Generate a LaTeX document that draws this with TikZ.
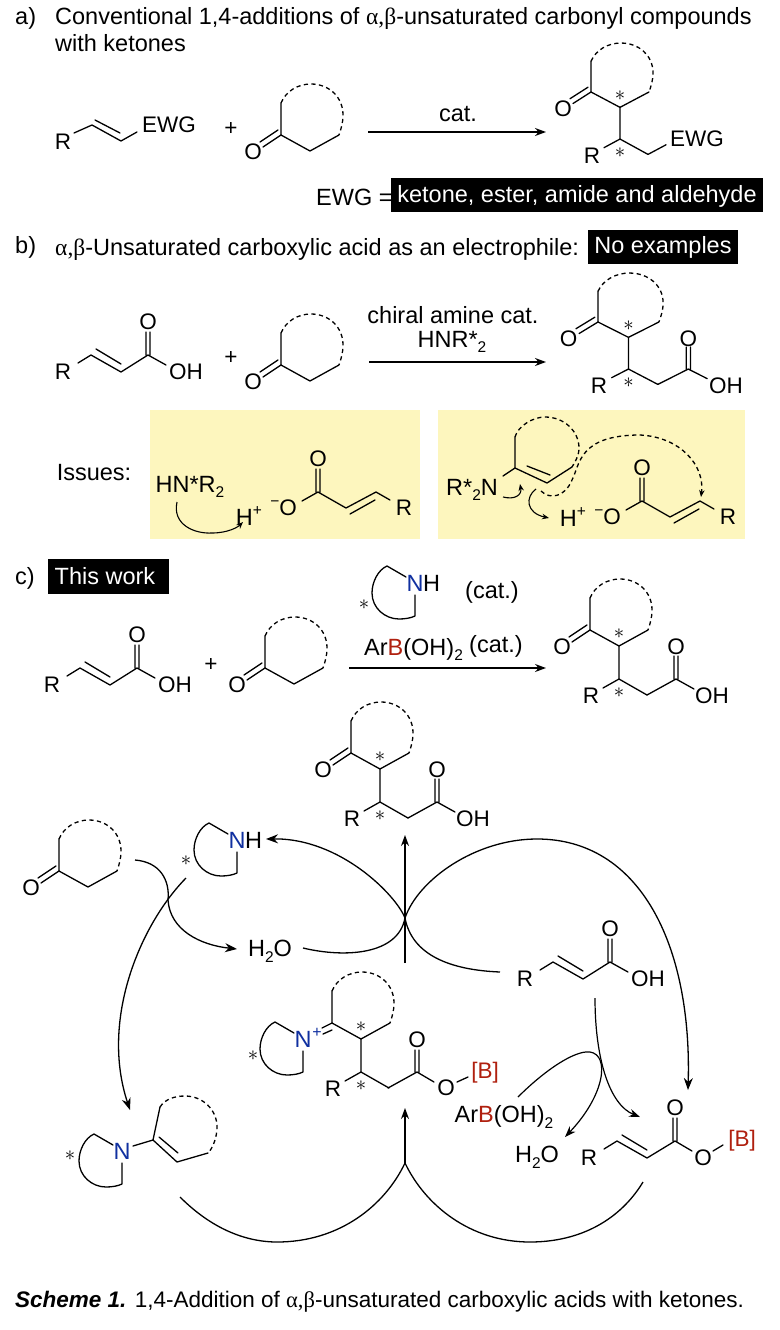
\documentclass[tikz,border=0pt]{standalone}
\usepackage{fontspec}
\setmainfont{Liberation Sans}
\newfontfamily\grk{Liberation Serif}
\usetikzlibrary{arrows.meta}
\definecolor{boron}{HTML}{B0200F}
\definecolor{nitro}{HTML}{1030A0}
\definecolor{pale}{HTML}{FDF6BE}
\newcommand\fs{\fontsize{22.5}{27}\selectfont}
\newcommand\ft{\fontsize{23.5}{28}\selectfont}
\newcommand\subs[1]{\raisebox{-.24em}{\fontsize{15.5}{15.5}\selectfont #1}}
\newcommand\sups[1]{\raisebox{.42em}{\fontsize{15.5}{15.5}\selectfont #1}}
\newcommand\ab{{\grk α,β}}
\newcommand\Bor{\textcolor{boron}{B}}
\tikzset{
  x=1pt,y=-1pt,
  bond/.style={line width=1.3pt,line cap=round,line join=round,black},
  dring/.style={line width=1.3pt,black,dash pattern=on 4.2pt off 3.4pt},
  atom/.style={font=\fs,inner sep=0pt,text=black},
  lab/.style={font=\ft,inner sep=0pt,text=black},
  txt/.style={font=\ft,inner sep=0pt,anchor=base west,text=black},
  inv/.style={font=\ft,inner sep=0pt,text=white},
  blk/.style={fill=black,draw=none},
  staratom/.style={inner sep=0pt,font=\fontsize{20}{20}\selectfont},
  rxn/.style={line width=1.3pt,-{Stealth[length=11pt,width=8pt]}},
  arc/.style={line width=1.3pt},
  arca/.style={line width=1.3pt,-{Stealth[length=12pt,width=9pt]}},
  curl/.style={line width=1.1pt,-{Stealth[length=7pt,width=5.5pt]}},
}
\newcommand\RingBase{%
  \draw[bond] (0,0)--(0,-32) (0,0)--(29,16)--(58,0);
  \draw[dring] (0,-32) .. controls (5,-44) and (17,-51) .. (30,-51) .. controls (48,-51) and (62,-38) .. (62,-20) .. controls (62,-12) and (60,-6) .. (58,0);
}
\newcommand\CarbO[1]{%
  \draw[bond] (0,0)--(-18,12) (-3,-5)--(-21,7);
  \node[atom] (#1O) at (-28,17) {O};
}
\newcommand\Ketone[4][]{\begin{scope}[shift={(#3,#4)},#1]\RingBase\CarbO{#2}\end{scope}}
\newcommand\Chain[1]{%
  \draw[bond] (29,16)--(29,49)--(13,58) (29,49)--(57,65);
  \node[atom] (#1R) at (1,66) {R};
  \node[staratom] (#1sa) at (29,4) {$*$};
  \node[staratom] (#1sb) at (29,63) {$*$};
}
\newcommand\AcidTail[1]{%
  \draw[bond] (57,65)--(86,49) (84,49)--(84,26) (88,49)--(88,26) (86,49)--(104,59);
  \node[atom] (#1Ot) at (86,17) {O};
  \node[atom] (#1OH) at (122,66) {OH};
}
\newcommand\Product[4][]{\begin{scope}[shift={(#3,#4)},#1]\RingBase\CarbO{#2}\Chain{#2}\AcidTail{#2}\end{scope}}
\newcommand\Acid[3]{\begin{scope}[shift={(#2,#3)}]
  \draw[bond] (-13,8)--(0,0)--(30,17)--(57,0)--(75,10) (5,-6)--(30,9) (55,0)--(55,-23) (59,0)--(59,-23);
  \node[atom] (#1R) at (-28,17) {R};
  \node[atom] (#1Ot) at (57,-33) {O};
  \node[atom] (#1OH) at (95,17) {OH};
\end{scope}}
\newcommand\Carbox[3]{\begin{scope}[shift={(#2,#3)}]
  \draw[bond] (-16,9)--(0,0)--(28,16)--(58,0)--(72,8) (32,22)--(57,8) (-2,0)--(-2,-23) (2,0)--(2,-23);
  \node[atom] (#1Ot) at (0,-33) {O};
  \node[atom,anchor=east] (#1O) at (-21,16) {\sups{−}O};
  \node[atom] (#1R) at (86,16) {R};
\end{scope}}
\newcommand\NLoop[3]{\begin{scope}[shift={(#2,#3)}]
  \draw[bond] (-9,-6)--(-28,-17) .. controls (-37,-13) and (-43,-1) .. (-43,10) .. controls (-43,25) and (-30,36) .. (-16,36) .. controls (-10,36) and (-4,35) .. (0,33)--(0,12);
  \node[lab,text=nitro] (#1N) at (0,0) {N};
\end{scope}}
\begin{document}
\begin{tikzpicture}
\useasboundingbox (0,0) rectangle (779,1330);
\fill[white] (0,0) rectangle (779,1330);

% --- a ---
\node[txt] (la) at (15,25) {a)};
\node[txt] (ta) at (55,25) {Conventional 1,4-additions of \ab-unsaturated carbonyl compounds};
\node[txt] (tb) at (55,52) {with ketones};
\begin{scope}[shift={(92,125)}]
  \draw[bond] (-18,8)--(0,0)--(29,16)--(45,7) (3,-5)--(28,8);
  \node[atom] (aR) at (-29,17) {R};
  \node[atom,anchor=west] (aEWG) at (50,0) {EWG};
\end{scope}
\node[atom] (aplus) at (231,129) {+};
\Ketone{ak}{281}{135}
\coordinate (aA) at (368,132);\coordinate (aB) at (546,132);
\draw[rxn] (aA)--(aB);
\node[lab] (acat) at (458,114) {cat.};
\begin{scope}[shift={(591,92)},yscale=.96]
  \RingBase\CarbO{ap}\Chain{ap}
  \draw[bond] (57,65)--(75,55);
  \node[atom,anchor=west] (apE) at (79,49) {EWG};
\end{scope}
\node[txt] (ewgeq) at (316,205) {EWG =};
\fill[blk] (391,178) rectangle (763,212);
\node[inv] (ewgv) at (577,196) {ketone, ester, amide and aldehyde};

% --- b ---
\node[txt] (lb) at (15,253) {b)};
\node[txt] (tb2) at (55,255) {\ab-Unsaturated carboxylic acid as an electrophile:};
\fill[blk] (588,230) rectangle (738,264);
\node[inv] (noex) at (663,247) {No examples};
\Acid{ba}{91}{355}
\node[atom] (bplus) at (231,358) {+};
\Ketone{bk}{281}{365}
\coordinate (bA) at (369,362);\coordinate (bB) at (546,362);
\draw[rxn] (bA)--(bB);
\node[lab] (bcat) at (453,315) {chiral amine cat.};
\node[lab] (bhn) at (452,342) {HNR*\subs{2}};
\Product[xscale=1.05,yscale=.96]{bp}{598}{322}

\fill[pale] (150,410) rectangle (420,539);
\fill[pale] (438,410) rectangle (745,539);
\node[lab] (iss) at (94,473) {Issues:};
\node[lab] (hn1) at (190,487) {HN*R\subs{2}};
\node[lab] (h1) at (249,516) {H\sups{+}};
\coordinate (c1a) at (177,502);\coordinate (c1b) at (243,522);
\draw[curl] (c1a) .. controls (172,525) and (195,534) .. (212,533) .. controls (228,533) and (238,527) .. (c1b);
\Carbox{ic}{318}{492}

\begin{scope}[shift={(515,468)}]
  \draw[bond] (-12,8)--(0,0)--(0,-31) (0,0)--(32,15)--(57,-1) (12,-2)--(35,7);
  \draw[dring] (0,-31) .. controls (3,-42) and (18,-51) .. (30,-51) .. controls (50,-51) and (64,-36) .. (64,-20) .. controls (64,-12) and (60,-6) .. (57,-1);
\end{scope}
\node[lab] (r2n) at (472,490) {R*\subs{2}N};
\coordinate (c2a) at (503,497);\coordinate (c2b) at (520,484);
\draw[curl] (c2a) .. controls (515,500) and (522,495) .. (c2b);
\coordinate (c3a) at (536,489);\coordinate (c3b) at (549,518);
\draw[curl] (c3a) .. controls (525,497) and (526,513) .. (c3b);
\coordinate (d1) at (541,491);\coordinate (d2) at (701,497);
\draw[dring,-{Stealth[length=7pt,width=5.5pt]}] (d1) .. controls (550,500) and (565,497) .. (572,480) .. controls (580,465) and (578,435) .. (640,435) .. controls (680,437) and (705,465) .. (d2);
\node[lab] (h2) at (573,517) {H\sups{+}};
\Carbox{id}{642}{501}

% --- c ---
\node[txt] (lc) at (15,584) {c)};
\fill[blk] (48,559) rectangle (169,594);
\node[inv] (thiswork) at (105,576) {This work};
\node[staratom] (cst) at (364,605) {$*$};
\NLoop{cn}{415}{583}
\node[lab,anchor=west] (cnh) at (423,583) {H};
\node[lab] (ccat1) at (492,592) {(cat.)};
\node[txt] (arb) at (364,655) {Ar\Bor(OH)\subs{2}};
\node[lab] (ccat2) at (496,646) {(cat.)};
\coordinate (cA) at (349,668);\coordinate (cB) at (546,668);
\draw[rxn] (cA)--(cB);
\Acid{ca}{80}{668}
\node[atom] (cplus) at (211,665) {+};
\Ketone{ck}{265}{668}
\Product{cp}{590}{630}

% --- cycle species ---
\Product{tp}{351}{753}
\Ketone{lk}{59}{871}
\NLoop{nh}{237}{840}
\node[lab,anchor=west] (nhH) at (245,840) {H};
\node[staratom] (nhs) at (186,861) {$*$};
\node[lab] (wl) at (270,951) {H\subs{2}O};
\Acid{ra}{553}{962}

% iminium
\NLoop{im}{303}{1039}
\node[atom,text=nitro] (impl) at (317,1033) {\fontsize{16}{16}\selectfont +};
\node[staratom] (ims) at (253,1056) {$*$};
\begin{scope}[shift={(332,1023)}]
  \RingBase\Chain{im}
  \draw[bond] (0,0)--(-10,5) (0,7)--(-9,11);
  \draw[bond] (56,65)--(85,49) (83,49)--(83,27) (87,49)--(87,27) (85,49)--(102,59) (125,59)--(136,54);
  \node[atom] (imOt) at (85,17) {O};
  \node[atom] (imOb) at (114,65) {O};
  \node[atom,text=boron] (imB) at (153,50) {[B]};
\end{scope}

% enamine
\NLoop{en}{122}{1151}
\node[staratom] (ens) at (70,1156) {$*$};
\begin{scope}[shift={(153,1140)}]
  \draw[bond] (-20,6)--(0,0)--(7,-33) (0,0)--(24,22)--(55,13) (6,-3)--(25,13);
  \draw[dring] (7,-33) .. controls (12,-41) and (22,-44) .. (32,-44) .. controls (50,-44) and (64,-30) .. (64,-13) .. controls (64,-3) and (60,8) .. (55,13);
\end{scope}

% ester
\begin{scope}[shift={(617,1141)}]
  \draw[bond] (-13,8)--(0,0)--(30,17)--(58,0)--(75,10) (5,-6)--(30,9) (56,0)--(56,-23) (60,0)--(60,-23) (96,10)--(106,4);
  \node[atom] (esR) at (-28,17) {R};
  \node[atom] (esO) at (58,-33) {O};
  \node[atom] (esOb) at (86,17) {O};
  \node[atom,text=boron] (esB) at (125,0) {[B]};
\end{scope}
\node[lab] (arb2) at (504,1117) {Ar\Bor(OH)\subs{2}};
\node[lab] (wr) at (537,1157) {H\subs{2}O};

% --- cycle arrows ---
\coordinate (up1a) at (405,963);\coordinate (up1b) at (405,835);
\draw[rxn] (up1a)--(up1b);
\coordinate (x1) at (405,918);
\coordinate (w1) at (303,948);\coordinate (nh1) at (266,839);
\draw[arca] (w1) .. controls (345,958) and (398,955) .. (x1) .. controls (396,895) and (340,838) .. (nh1);
\coordinate (ra1) at (500,972);\coordinate (es1) at (688,1090);
\draw[arca] (ra1) .. controls (450,970) and (412,955) .. (x1) .. controls (418,880) and (475,839) .. (537,839) .. controls (640,839) and (692,945) .. (es1);
\coordinate (k1) at (135,860);\coordinate (w0) at (237,949);
\draw[arca] (k1) .. controls (160,862) and (170,880) .. (168,900) .. controls (170,930) and (200,945) .. (w0);
\coordinate (n1) at (186,878);\coordinate (e1) at (130,1110);
\draw[arca] (n1) .. controls (140,925) and (100,1020) .. (e1);
\coordinate (x2) at (405,1163);\coordinate (up2) at (405,1108);
\draw[rxn] (x2)--(up2);
\coordinate (e2) at (180,1197);\coordinate (es2) at (643,1182);
\draw[arc] (e2) .. controls (215,1232) and (250,1242) .. (277,1242) .. controls (340,1242) and (385,1205) .. (x2);
\draw[arc] (x2) .. controls (425,1205) and (470,1242) .. (530,1242) .. controls (580,1242) and (620,1220) .. (es2);
\coordinate (ra2) at (595,998);\coordinate (es3) at (640,1117);
\draw[line width=1.2pt,-{Stealth[length=11pt,width=8pt]}] (ra2) .. controls (595,1060) and (610,1105) .. (es3);
\coordinate (ar1) at (518,1097);\coordinate (w2) at (565,1137);
\draw[line width=1.2pt,-{Stealth[length=11pt,width=8pt]}] (ar1) .. controls (545,1070) and (575,1050) .. (590,1052) .. controls (610,1055) and (605,1095) .. (w2);

% caption
\node[txt,font=\fontsize{22.5}{27}\selectfont] (cap) at (15,1307) {\textbf{\textit{Scheme 1.}} 1,4-Addition of \ab-unsaturated carboxylic acids with ketones.};
\end{tikzpicture}
\end{document}
